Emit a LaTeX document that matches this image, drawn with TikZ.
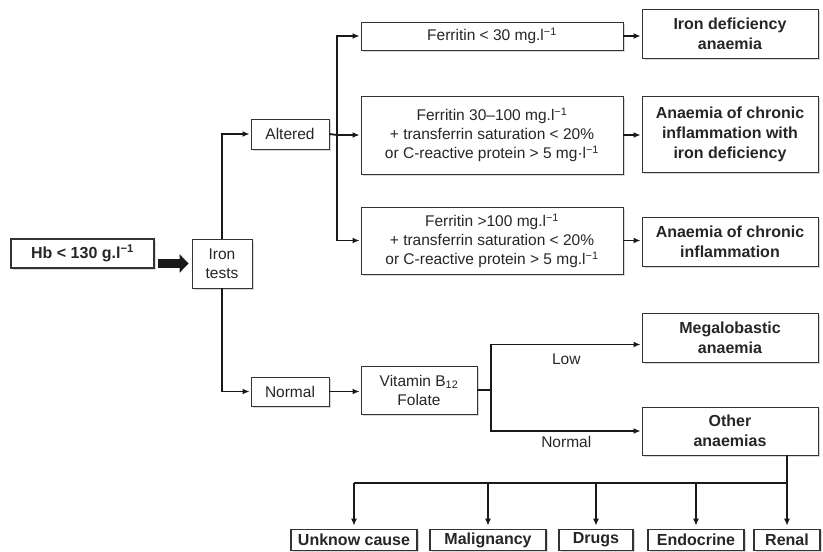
\documentclass[tikz,border=0pt]{standalone}
\usepackage{fontspec}
\setmainfont{Liberation Sans}
\usepackage{tikz}
\usetikzlibrary{arrows.meta,shadows}

\begin{document}
\begin{tikzpicture}[x=1pt,y=-1pt,font=\fontsize{15.5}{19}\selectfont,text=black!85]
  \tikzstyle{testbox}=[draw=black!80, line width=0.9pt, fill=white, inner sep=0pt, align=center,
    drop shadow={shadow xshift=1.5pt,shadow yshift=-1.5pt,opacity=0.3}]
  \tikzstyle{resultbox}=[testbox, minimum width=176pt, font=\fontsize{16}{20}\selectfont\bfseries]
  \tikzstyle{causebox}=[testbox, line width=1.6pt, minimum height=21pt, font=\fontsize{16}{19}\selectfont\bfseries]
  \tikzstyle{trunk}=[line width=1.8pt, draw=black!90]
  \tikzstyle{link}=[trunk, -{Latex[length=7pt,width=6pt]}, shorten >=1pt]
  \tikzstyle{fatlink}=[line width=9pt, draw=black!90, -{Triangle[length=9pt,width=18pt]}]

  \useasboundingbox (0,0) rectangle (823,552);

  % start and iron tests
  \node (hb) [testbox, line width=2pt, minimum width=143pt, minimum height=29pt,
    font=\fontsize{16}{19}\selectfont\bfseries] at (82.5,253.5) {Hb < 130 g.l\textsuperscript{−1}};
  \node (iron) [testbox, minimum width=60pt, minimum height=49pt] at (222,263.5) {Iron\\tests};
  \node (altered) [testbox, minimum width=78pt, minimum height=30pt] at (290,134) {Altered};
  \node (normal) [testbox, minimum width=78pt, minimum height=29pt] at (290,391.5) {Normal};

  % ferritin branch
  \node (fer1) [testbox, minimum width=262pt, minimum height=28pt] at (492,36)
    {Ferritin < 30 mg.l\textsuperscript{−1}};
  \node (fer2) [testbox, minimum width=262pt, minimum height=78pt] at (492,135)
    {Ferritin 30–100 mg.l\textsuperscript{−1}\\+ transferrin saturation < 20\%\\or C-reactive protein > 5 mg·l\textsuperscript{−1}};
  \node (fer3) [testbox, minimum width=262pt, minimum height=67pt] at (492,240.5)
    {Ferritin >100 mg.l\textsuperscript{−1}\\+ transferrin saturation < 20\%\\or C-reactive protein > 5 mg.l\textsuperscript{−1}};
  \node (res1) [resultbox, minimum height=49pt] at (730,33.5) {Iron deficiency\\anaemia};
  \node (res2) [resultbox, minimum height=76pt] at (730,134) {Anaemia of chronic\\inflammation with\\iron deficiency};
  \node (res3) [resultbox, minimum height=49pt] at (730,241.5) {Anaemia of chronic\\inflammation};

  % vitamin branch
  \node (vitamin) [testbox, minimum width=116pt, minimum height=48pt] at (419,390) {Vitamin B\textsubscript{12}\\Folate};
  \node (megalo) [resultbox, minimum height=49pt] at (730,337.5) {Megalobastic\\anaemia};
  \node (other) [resultbox, minimum height=48pt] at (730,431) {Other\\anaemias};

  % causes
  \node (unknown) [causebox, minimum width=126pt] at (354,540) {Unknow cause};
  \node (malig) [causebox, minimum width=116pt] at (488,540) {Malignancy};
  \node (drugs) [causebox, minimum width=74pt] at (596,540) {Drugs};
  \node (endo) [causebox, minimum width=96pt] at (696,540) {Endocrine};
  \node (renal) [causebox, minimum width=66pt] at (787,540) {Renal};

  \coordinate (split1) at (337,135);
  \coordinate (split2) at (491,390);
  \coordinate (dist) at (787,483);

  % connectors
  \draw[fatlink, shorten <=3pt, shorten >=3pt] (iron.west -| hb.east) -- (iron.west);
  \draw[link] (iron.north) |- (altered.west);
  \draw[link] (iron.south) |- (normal.west);
  \draw[trunk] (altered.east) -- (split1);
  \draw[link] (split1) |- (fer1.west);
  \draw[link] (split1) -- (fer2.west);
  \draw[link] (split1) |- (fer3.west);
  \foreach \i in {1,2,3}
    \draw[link] (fer\i.east) -- (fer\i.east -| res\i.west);

  \draw[link] (normal.east) -- (normal.east -| vitamin.west);
  \draw[trunk] (vitamin.east) -- (split2);
  \draw[link] (split2) |- node[pos=0.75, below=5pt] {Low} ([yshift=-7pt]megalo.west);
  \draw[link] (split2) |- node[pos=0.75, below=1pt] {Normal} (other.west);

  \draw[link, shorten >=3pt] (other.south -| renal.north) -- (renal.north);
  \draw[trunk] (dist) -- (dist -| unknown.north);
  \foreach \b in {unknown,malig,drugs,endo}
    \draw[link, shorten >=3pt] (dist -| \b.north) -- (\b.north);
\end{tikzpicture}
\end{document}
